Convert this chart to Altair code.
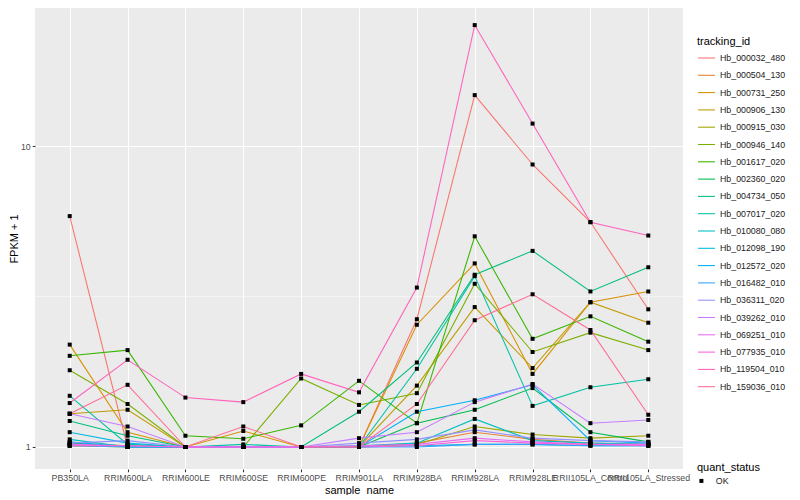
import altair as alt
import pandas as pd

samples = ["PB350LA", "RRIM600LA", "RRIM600LE", "RRIM600SE", "RRIM600PE", "RRIM901LA",
           "RRIM928BA", "RRIM928LA", "RRIM928LE", "RRII105LA_Control", "RRII105LA_Stressed"]

tracking_ids = ["Hb_000032_480", "Hb_000504_130", "Hb_000731_250", "Hb_000906_130",
                "Hb_000915_030", "Hb_000946_140", "Hb_001617_020", "Hb_002360_020",
                "Hb_004734_050", "Hb_007017_020", "Hb_010080_080", "Hb_012098_190",
                "Hb_012572_020", "Hb_016482_010", "Hb_036311_020", "Hb_039262_010",
                "Hb_069251_010", "Hb_077935_010", "Hb_119504_010", "Hb_159036_010"]

palette = ["#F8766D", "#EA8331", "#D89000", "#C09B00", "#A3A500", "#7CAE00", "#39B600",
           "#00BB4E", "#00BF7D", "#00C1A3", "#00BFC4", "#00BAE0", "#00B0F6", "#35A2FF",
           "#9590FF", "#C77CFF", "#E76BF3", "#FA62DB", "#FF62BC", "#FF6C91"]

# FPKM + 1 per sample (order of `samples`)
hb_000032_480 = [5.86, 1.00, 1.00, 1.00, 1.00, 1.00, 2.66, 14.8, 8.70, 5.60, 2.87]
hb_000504_130 = [1.02, 1.01, 1.00, 1.00, 1.00, 1.00, 1.03, 1.12, 1.06, 1.03, 1.02]
hb_000731_250 = [2.19, 1.12, 1.00, 1.13, 1.00, 1.00, 2.55, 4.08, 1.75, 3.03, 3.29]
hb_000906_130 = [1.29, 1.33, 1.00, 1.00, 1.00, 1.00, 1.60, 2.92, 1.83, 3.03, 2.59]
hb_000915_030 = [1.01, 1.00, 1.00, 1.00, 1.00, 1.00, 1.02, 1.17, 1.10, 1.07, 1.09]
hb_000946_140 = [1.80, 1.39, 1.00, 1.00, 1.69, 1.38, 1.51, 3.49, 2.07, 2.40, 2.10]
hb_001617_020 = [2.01, 2.10, 1.09, 1.065, 1.18, 1.66, 1.20, 5.02, 2.29, 2.72, 2.24]
hb_002360_020 = [1.03, 1.01, 1.00, 1.00, 1.00, 1.00, 1.20, 1.33, 1.57, 1.12, 1.04]
hb_004734_050 = [1.22, 1.09, 1.00, 1.00, 1.00, 1.31, 1.91, 3.74, 4.49, 3.29, 3.96]
hb_007017_020 = [1.48, 1.02, 1.00, 1.02, 1.00, 1.00, 1.82, 3.70, 1.37, 1.58, 1.68]
hb_010080_080 = [1.06, 1.00, 1.00, 1.00, 1.00, 1.01, 1.03, 1.24, 1.05, 1.03, 1.02]
hb_012098_190 = [1.12, 1.03, 1.00, 1.00, 1.00, 1.00, 1.01, 1.02, 1.02, 1.01, 1.01]
hb_012572_020 = [1.04, 1.00, 1.00, 1.00, 1.00, 1.00, 1.31, 1.43, 1.61, 1.05, 1.03]
hb_016482_010 = [1.01, 1.00, 1.00, 1.00, 1.00, 1.00, 1.00, 1.02, 1.02, 1.01, 1.01]
hb_036311_020 = [1.03, 1.05, 1.00, 1.00, 1.00, 1.03, 1.06, 1.14, 1.07, 1.05, 1.04]
hb_039262_010 = [1.29, 1.17, 1.00, 1.00, 1.00, 1.07, 1.12, 1.41, 1.62, 1.20, 1.23]
hb_069251_010 = [1.02, 1.01, 1.00, 1.00, 1.00, 1.01, 1.02, 1.07, 1.04, 1.02, 1.02]
hb_077935_010 = [1.01, 1.01, 1.00, 1.00, 1.00, 1.00, 1.01, 1.05, 1.03, 1.02, 1.01]
hb_119504_010 = [1.40, 1.95, 1.46, 1.41, 1.75, 1.52, 3.39, 25.3, 11.9, 5.59, 5.05]
hb_159036_010 = [1.29, 1.61, 1.00, 1.17, 1.00, 1.00, 1.39, 2.64, 3.22, 2.45, 1.28]

series_values = [hb_000032_480, hb_000504_130, hb_000731_250, hb_000906_130,
                 hb_000915_030, hb_000946_140, hb_001617_020, hb_002360_020,
                 hb_004734_050, hb_007017_020, hb_010080_080, hb_012098_190,
                 hb_012572_020, hb_016482_010, hb_036311_020, hb_039262_010,
                 hb_069251_010, hb_077935_010, hb_119504_010, hb_159036_010]

quant_status = "OK"

rows = []
for tid, vals in zip(tracking_ids, series_values):
    for s, v in zip(samples, vals):
        rows.append({"tracking_id": tid, "sample_name": s, "fpkm": v,
                     "quant_status": quant_status})
df = pd.DataFrame(rows)

minor_grid = pd.DataFrame({"v": [10 ** 0.5]})

y_domain = [10 ** -0.0732, 10 ** 1.460]
FONT = "Liberation Sans"

x_enc = alt.X("sample_name:N", sort=samples,
              scale=alt.Scale(type="point", padding=0.6),
              axis=alt.Axis(title="sample_name", labelAngle=0, labelOverlap=False,
                            labelBound=False, labelFlush=False,
                            labelPadding=1.5, titlePadding=2))
y_scale = alt.Scale(type="log", domain=y_domain, nice=False, zero=False)
y_enc = alt.Y("fpkm:Q", scale=y_scale,
              axis=alt.Axis(title="FPKM + 1", values=[1, 10], format="d",
                            labelPadding=2, titlePadding=1))

minor = alt.Chart(minor_grid).mark_rule(color="white", strokeWidth=0.55).encode(
    y=alt.Y("v:Q", scale=y_scale)
)

lines = alt.Chart(df).mark_line(strokeWidth=1.07).encode(
    x=x_enc,
    y=y_enc,
    color=alt.Color("tracking_id:N",
                    scale=alt.Scale(domain=tracking_ids, range=palette),
                    legend=alt.Legend(title="tracking_id", orient="none",
                                      legendX=662, legendY=27.5,
                                      symbolType="stroke", symbolSize=289,
                                      symbolStrokeWidth=1.07,
                                      labelFontSize=8.8, titleFontSize=11,
                                      titleFontWeight="normal", titlePadding=2,
                                      labelOffset=4, rowPadding=2.3, padding=0,
                                      labelColor="#1A1A1A", titleColor="#000000",
                                      labelFont=FONT, titleFont=FONT)),
)

points = alt.Chart(df).mark_point(filled=True, color="black", size=16, opacity=1).encode(
    x=alt.X("sample_name:N", sort=samples),
    y=alt.Y("fpkm:Q"),
    shape=alt.Shape("quant_status:N",
                    scale=alt.Scale(domain=[quant_status], range=["square"]),
                    legend=alt.Legend(title="quant_status", orient="none",
                                      legendX=662, legendY=453.5,
                                      symbolFillColor="black", symbolStrokeColor="black",
                                      symbolSize=16, labelFontSize=8.8, titleFontSize=11,
                                      titleFontWeight="normal", titlePadding=4,
                                      labelOffset=10, padding=0,
                                      labelColor="#1A1A1A", titleColor="#000000",
                                      labelFont=FONT, titleFont=FONT)),
)

chart = alt.layer(minor, lines, points).properties(
    width=648, height=461,
    autosize=alt.AutoSizeParams(type="none"),
    padding={"left": 27, "top": 0, "right": 105, "bottom": 26},
).configure(font=FONT).configure_view(
    fill="#EBEBEB", stroke=None
).configure_axis(
    domain=False,
    grid=True, gridColor="white", gridWidth=1.07,
    tickColor="#333333", tickSize=2.75, tickWidth=1.07,
    labelColor="#4D4D4D", labelFontSize=8.8, labelFont=FONT,
    titleColor="#000000", titleFontSize=11, titleFontWeight="normal", titleFont=FONT,
)

chart.save("out.html", embed_options={"renderer": "svg", "actions": False})
